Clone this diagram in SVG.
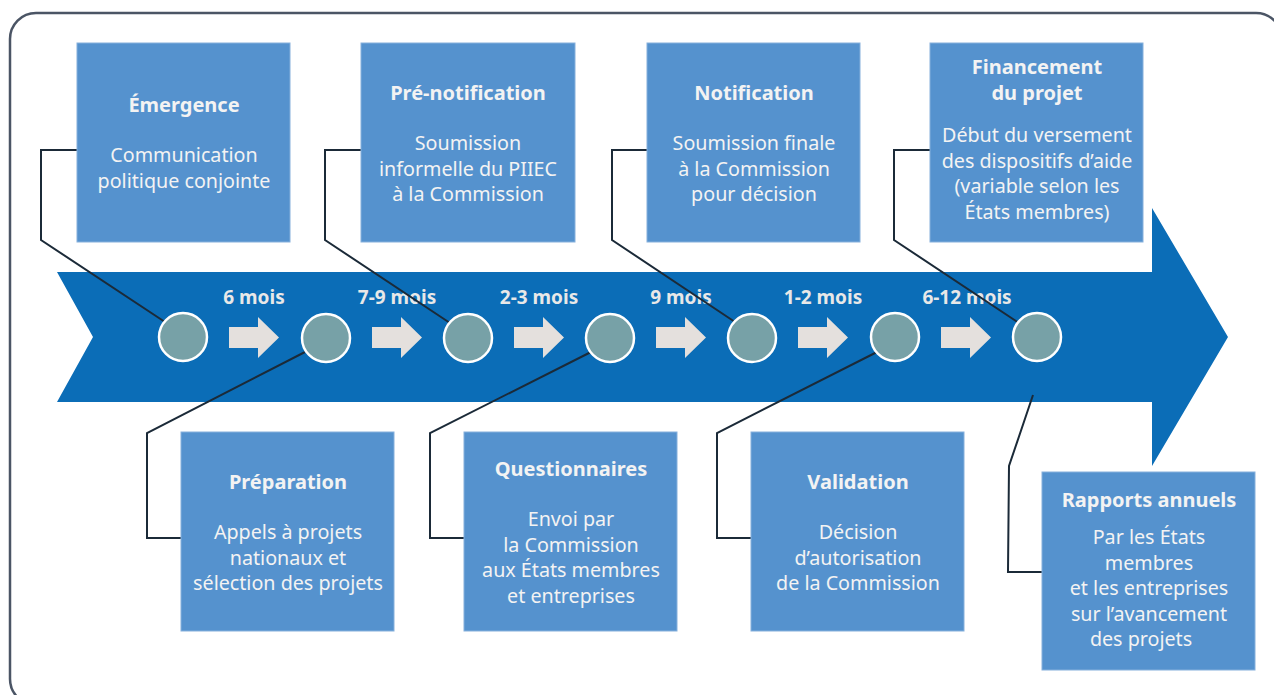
<svg xmlns="http://www.w3.org/2000/svg" width="1274" height="695" viewBox="0 0 1274 695">
<style>
.frame{fill:#ffffff;stroke:#4b5565;stroke-width:2.5}
.band{fill:#0b6db7}
.box{fill:#5592ce;stroke:#86b0dc;stroke-width:1}
.dot{fill:#77a1a7;stroke:#ffffff;stroke-width:2.5}
.step{fill:#e4e0dd}
.conn{fill:none;stroke:#1b2a38;stroke-width:2;stroke-linejoin:miter}
text{font-family:"Noto Sans","Open Sans","Liberation Sans",sans-serif;fill:#f3f3f3;text-anchor:middle}
.t{font-size:20px;font-weight:700}
.b{font-size:19.7px}
.m{font-size:19px;font-weight:700;fill:#e8e8e8}
</style>
<rect class="frame" x="10" y="13" width="1272" height="692" rx="26"/>
<g id="timeline">
<path class="band" d="M57,272 H1152 V208 L1228,337 L1152,466 V402 H57 L93,337 Z"/>
<g class="step">
<path d="M229,327 h29 v-10 l21,20.5 l-21,20.5 v-10 h-29 z"/>
<path d="M372,327 h29 v-10 l21,20.5 l-21,20.5 v-10 h-29 z"/>
<path d="M514,327 h29 v-10 l21,20.5 l-21,20.5 v-10 h-29 z"/>
<path d="M656,327 h29 v-10 l21,20.5 l-21,20.5 v-10 h-29 z"/>
<path d="M798,327 h29 v-10 l21,20.5 l-21,20.5 v-10 h-29 z"/>
<path d="M941,327 h29 v-10 l21,20.5 l-21,20.5 v-10 h-29 z"/>
</g>
<text class="m" x="254" y="304">6 mois</text>
<text class="m" x="397" y="304">7-9 mois</text>
<text class="m" x="539" y="304">2-3 mois</text>
<text class="m" x="681" y="304">9 mois</text>
<text class="m" x="823" y="304">1-2 mois</text>
<text class="m" x="967" y="304">6-12 mois</text>
</g>
<g id="connectors">
<polyline class="conn" points="77,150 41,150 41,240 165,322"/>
<polyline class="conn" points="361,150 325,150 325,240 450,323"/>
<polyline class="conn" points="647,150 612,150 612,240 735,322"/>
<polyline class="conn" points="930,150 894,150 894,240 1019,323"/>
<polyline class="conn" points="305,352 147,433 147,538 181,538"/>
<polyline class="conn" points="591,352 430,433 430,538 464,538"/>
<polyline class="conn" points="877,352 717,433 717,538 751,538"/>
<polyline class="conn" points="1033,395 1009,466 1008,572 1042,572"/>
</g>
<g id="milestones">
<circle class="dot" cx="183" cy="337" r="24"/>
<circle class="dot" cx="326" cy="338" r="24"/>
<circle class="dot" cx="468" cy="338" r="24"/>
<circle class="dot" cx="610" cy="338" r="24"/>
<circle class="dot" cx="752" cy="338" r="24"/>
<circle class="dot" cx="895" cy="337" r="24"/>
<circle class="dot" cx="1037" cy="337" r="24"/>
</g>
<g id="emergence">
<rect class="box" x="77" y="43" width="213" height="199"/>
<text class="t" x="184" y="112">Émergence</text>
<text class="b" x="184" y="162">Communication</text>
<text class="b" x="184" y="188">politique conjointe</text>
</g>
<g id="prenotification">
<rect class="box" x="361" y="43" width="214" height="199"/>
<text class="t" x="468" y="100">Pré-notification</text>
<text class="b" x="468" y="150">Soumission</text>
<text class="b" x="468" y="176">informelle du PIIEC</text>
<text class="b" x="468" y="201">à la Commission</text>
</g>
<g id="notification">
<rect class="box" x="647" y="43" width="213" height="199"/>
<text class="t" x="754" y="100">Notification</text>
<text class="b" x="754" y="150">Soumission finale</text>
<text class="b" x="754" y="176">à la Commission</text>
<text class="b" x="754" y="201">pour décision</text>
</g>
<g id="financement">
<rect class="box" x="930" y="43" width="213" height="199"/>
<text class="t" x="1037" y="74">Financement</text>
<text class="t" x="1037" y="100">du projet</text>
<text class="b" x="1037" y="142">Début du versement</text>
<text class="b" x="1037" y="168">des dispositifs d’aide</text>
<text class="b" x="1037" y="193">(variable selon les</text>
<text class="b" x="1037" y="219">États membres)</text>
</g>
<g id="preparation">
<rect class="box" x="181" y="432" width="213" height="199"/>
<text class="t" x="288" y="489">Préparation</text>
<text class="b" x="288" y="539">Appels à projets</text>
<text class="b" x="288" y="565">nationaux et</text>
<text class="b" x="288" y="590">sélection des projets</text>
</g>
<g id="questionnaires">
<rect class="box" x="464" y="432" width="213" height="199"/>
<text class="t" x="571" y="476">Questionnaires</text>
<text class="b" x="571" y="526">Envoi par</text>
<text class="b" x="571" y="552">la Commission</text>
<text class="b" x="571" y="577">aux États membres</text>
<text class="b" x="571" y="603">et entreprises</text>
</g>
<g id="validation">
<rect class="box" x="751" y="432" width="213" height="199"/>
<text class="t" x="858" y="489">Validation</text>
<text class="b" x="858" y="539">Décision</text>
<text class="b" x="858" y="565">d’autorisation</text>
<text class="b" x="858" y="590">de la Commission</text>
</g>
<g id="rapports">
<rect class="box" x="1042" y="472" width="213" height="198"/>
<text class="t" x="1149" y="507">Rapports annuels</text>
<text class="b" x="1149" y="544">Par les États</text>
<text class="b" x="1149" y="570">membres</text>
<text class="b" x="1149" y="595">et les entreprises</text>
<text class="b" x="1149" y="621">sur l’avancement</text>
<text class="b" x="1141" y="646">des projets</text>
</g>
</svg>
